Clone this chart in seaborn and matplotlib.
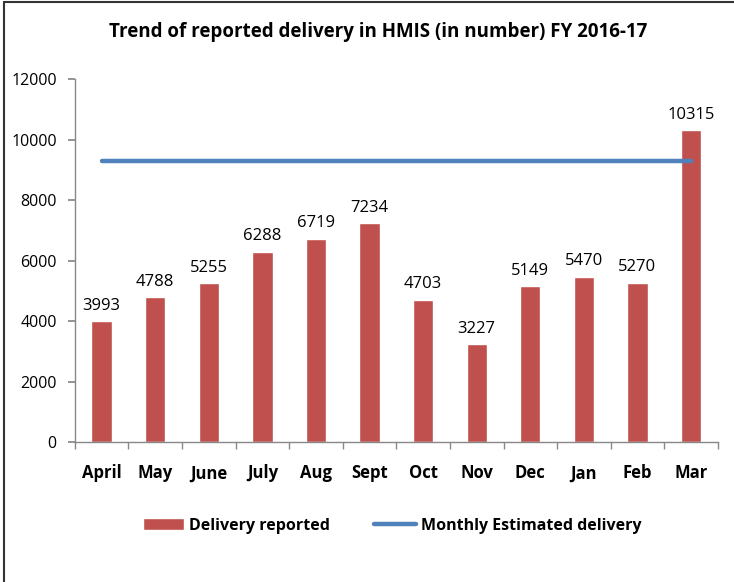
import pandas as pd
import matplotlib.pyplot as plt
import seaborn as sns
from matplotlib.lines import Line2D
from matplotlib.patches import Patch

# chart data
months = ['April', 'May', 'June', 'July', 'Aug', 'Sept', 'Oct', 'Nov', 'Dec', 'Jan', 'Feb', 'Mar']
delivery_reported = [3993, 4788, 5255, 6288, 6719, 7234, 4703, 3227, 5149, 5470, 5270, 10315]
monthly_estimated = [9300] * 12

df = pd.DataFrame({'Month': months, 'Reported': delivery_reported, 'Estimated': monthly_estimated})

sns.set_theme(style='white')
plt.rcParams['font.family'] = ['Open Sans', 'DejaVu Sans']
plt.rcParams['text.color'] = 'black'
plt.rcParams['xtick.color'] = 'black'
plt.rcParams['ytick.color'] = 'black'

fig = plt.figure(figsize=(7.34, 5.82), dpi=100)
ax = fig.add_axes([0.102, 0.2405, 0.876, 0.6235])

bar_color = '#C0504D'
line_color = '#4F81BD'

sns.barplot(data=df, x='Month', y='Reported', color=bar_color, width=0.38,
            saturation=1, ax=ax)
sns.lineplot(x=range(len(months)), y=df['Estimated'], color=line_color, linewidth=3.2, ax=ax)

# value labels above bars
for i, v in enumerate(delivery_reported):
    ax.text(i, v + 250, str(v), ha='center', va='bottom', fontsize=12, color='black')

ax.set_ylim(0, 12000)
ax.set_xlim(-0.5, len(months) - 0.5)
ax.set_yticks(range(0, 12001, 2000))
ax.set_xlabel('')
ax.set_ylabel('')

# axis styling
for side in ['top', 'right']:
    ax.spines[side].set_visible(False)
for side in ['left', 'bottom']:
    ax.spines[side].set_color('#888888')
    ax.spines[side].set_linewidth(1)
ax.tick_params(axis='y', left=True, length=5, color='#888888', labelcolor='black', labelsize=11.5, pad=8)
ax.set_xticks([i - 0.5 for i in range(len(months) + 1)], minor=True)
ax.tick_params(axis='x', which='major', bottom=False, labelcolor='black', labelsize=12, pad=10)
ax.tick_params(axis='x', which='minor', bottom=True, length=5, color='#888888')
for lbl in ax.get_xticklabels():
    lbl.set_fontweight('bold')

fig.text(0.515, 0.945, 'Trend of reported delivery in HMIS (in number) FY 2016-17',
         ha='center', va='center', fontsize=13.5, fontweight='bold')

# legend below the chart
handles = [Patch(facecolor=bar_color, label='Delivery reported'),
           Line2D([0], [0], color=line_color, lw=3.2, label='Monthly Estimated delivery')]
fig.legend(handles=handles, loc='center', bbox_to_anchor=(0.534, 0.097), ncol=2,
           frameon=False, columnspacing=2.8, handlelength=2.6, handletextpad=0.3,
           prop={'weight': 'bold', 'size': 11.5})

# figure border (left and top)
fig.add_artist(Line2D([0.006, 0.006], [0, 0.997], color='#333333', lw=1.5, transform=fig.transFigure))
fig.add_artist(Line2D([0.006, 1], [0.997, 0.997], color='#333333', lw=1.5, transform=fig.transFigure))

fig.savefig('out.png', dpi=100)
